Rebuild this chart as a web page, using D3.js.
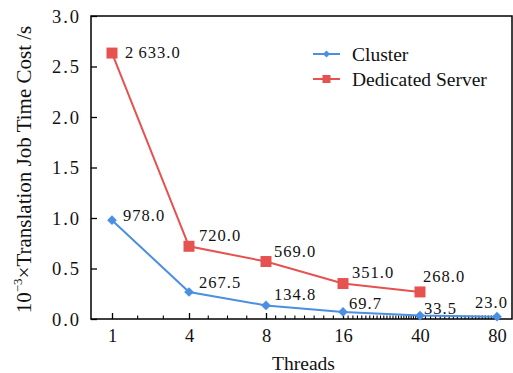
<!DOCTYPE html>
<html>
<head>
<meta charset="utf-8">
<script src="https://cdn.jsdelivr.net/npm/d3@7"></script>
<style>
  body { margin: 0; background: #fff; }
  svg text { font-family: "Liberation Serif", "Times New Roman", Times, "DejaVu Serif", serif; }
</style>
</head>
<body>
<svg id="chart" width="513" height="373"></svg>
<script>
// threads on the x axis
const threads = [1, 4, 8, 16, 40, 80];
// job time in seconds
const clusterTimes = [978.0, 267.5, 134.8, 69.7, 33.5, 23.0];
const serverTimes = [2633.0, 720.0, 569.0, 351.0, 268.0];
const yTicks = [0, 0.5, 1.0, 1.5, 2.0, 2.5, 3.0];
const seriesNames = ['Cluster', 'Dedicated Server'];

const COLORS = {
    cluster: '#4a8fe2',
    server: '#e5524f'
};

// hand placed value labels, like the original
const clusterLabelOffsets = [[11, 1], [10, -4], [8, -5], [6, -3], [4, -2], [-22, -9]];
const serverLabelOffsets = [[13, 5], [10, -5], [8, -5], [9, -6], [3, -10]];

const svg = d3.select('#chart');
const margin = { left: 91, top: 16, right: 1, bottom: 54 };
const W = 513 - margin.left - margin.right;
const H = 373 - margin.top - margin.bottom;

const g = svg.append('g').attr('transform', `translate(${margin.left},${margin.top})`);

const x = d3.scalePoint().domain(threads).range([21, 406]);
const y = d3.scaleLinear().domain([0, 3]).range([H, 0]);

// minor ticks between categories
let minor = [];
for (let i = 0; i < threads.length - 1; i++) {
    let a = threads[i], b = threads[i + 1];
    let step = Math.ceil((b - a) / 24);
    for (let v = a + step; v < b; v += step) {
        let t = (b - a) <= 8 ? (v - a) / (b - a) : Math.log(v / a) / Math.log(b / a);
        minor.push(x(a) + t * (x(b) - x(a)));
    }
}

// frame
g.append('rect')
    .attr('width', W).attr('height', H)
    .attr('fill', 'none')
    .attr('stroke', '#000')
    .attr('stroke-width', 1.5);

// x axis
const xAxis = g.append('g')
    .attr('transform', `translate(0,${H})`)
    .call(d3.axisBottom(x).tickSizeInner(-6).tickSizeOuter(0).tickPadding(10));
xAxis.attr('font-family', null);
xAxis.select('.domain').remove();
xAxis.selectAll('line').attr('stroke', '#000').attr('stroke-width', 1.3);
xAxis.selectAll('text')
    .attr('font-size', 18.5)
    .attr('fill', '#111');

g.append('g').selectAll('line')
    .data(minor)
    .join('line')
    .attr('x1', d => d).attr('x2', d => d)
    .attr('y1', H).attr('y2', H - 3.5)
    .attr('stroke', '#000')
    .attr('stroke-width', 1.1);

// y axis
const yAxis = g.append('g')
    .call(d3.axisLeft(y).tickValues(yTicks).tickFormat(d3.format('.1f'))
        .tickSizeInner(-6).tickSizeOuter(0).tickPadding(10));
yAxis.attr('font-family', null);
yAxis.select('.domain').remove();
yAxis.selectAll('line').attr('stroke', '#000').attr('stroke-width', 1.3);
yAxis.selectAll('text')
    .attr('font-size', 18.5)
    .attr('letter-spacing', 2)
    .attr('dy', '0.35em')
    .attr('fill', '#111');

// axis titles
g.append('text')
    .attr('x', W / 2 + 2)
    .attr('y', H + 51)
    .attr('text-anchor', 'middle')
    .attr('font-size', 19.5)
    .attr('fill', '#111')
    .text('Threads');

const yl = svg.append('text')
    .attr('transform', `translate(31,${margin.top + H / 2 + 2}) rotate(-90)`)
    .attr('text-anchor', 'middle')
    .attr('font-size', 21)
    .attr('fill', '#111');
yl.append('tspan').text('10');
yl.append('tspan').attr('font-size', 13).attr('dy', -9).text('\u22123');
yl.append('tspan').attr('dy', 9).text('\u00d7Translation Job Time Cost /s');

// series
const line = d3.line().x(d => x(d.t)).y(d => y(d.v / 1000));

const clusterData = clusterTimes.map((v, i) => ({ t: threads[i], v: v }));
const serverData = serverTimes.map((v, i) => ({ t: threads[i], v: v }));

function drawSeries(data, color, marker, offsets, fmt) {
    g.append('path')
        .datum(data)
        .attr('fill', 'none')
        .attr('stroke', color)
        .attr('stroke-width', 2)
        .attr('d', line);

    g.append('g').selectAll('path')
        .data(data)
        .join('path')
        .attr('transform', d => `translate(${x(d.t)},${y(d.v / 1000)})`)
        .attr('d', marker)
        .attr('fill', color);

    g.append('g').selectAll('text')
        .data(data)
        .join('text')
        .attr('x', (d, i) => x(d.t) + offsets[i][0])
        .attr('y', (d, i) => y(d.v / 1000) + offsets[i][1])
        .attr('font-size', 16.5)
        .attr('letter-spacing', 1)
        .attr('fill', '#111')
        .text(fmt);
}

const diamond = d3.symbol().type(d3.symbolDiamond2).size(60)();
const square = 'M-5.5,-5.5H5.5V5.5H-5.5Z';

drawSeries(serverData, COLORS.server, square, serverLabelOffsets,
    d => d.v >= 1000 ? d3.format(',.1f')(d.v).replace(',', '\u2009') : d3.format('.1f')(d.v));
drawSeries(clusterData, COLORS.cluster, diamond, clusterLabelOffsets, d => d3.format('.1f')(d.v));

// legend
const legend = g.append('g').attr('transform', `translate(222,38)`);
const legendItems = [
    { name: seriesNames[0], color: COLORS.cluster, marker: d3.symbol().type(d3.symbolDiamond2).size(32)() },
    { name: seriesNames[1], color: COLORS.server, marker: 'M-4,-4H4V4H-4Z' }
];
legendItems.forEach((d, i) => {
    let row = legend.append('g').attr('transform', `translate(0,${i * 25})`);
    row.append('line')
        .attr('x1', 0).attr('x2', 27)
        .attr('stroke', d.color).attr('stroke-width', 2);
    row.append('path')
        .attr('transform', 'translate(13.5,0)')
        .attr('d', d.marker)
        .attr('fill', d.color);
    row.append('text')
        .attr('x', 39)
        .attr('y', 7)
        .attr('font-size', 19.5)
        .attr('fill', '#111')
        .text(d.name);
});
</script>
</body>
</html>
